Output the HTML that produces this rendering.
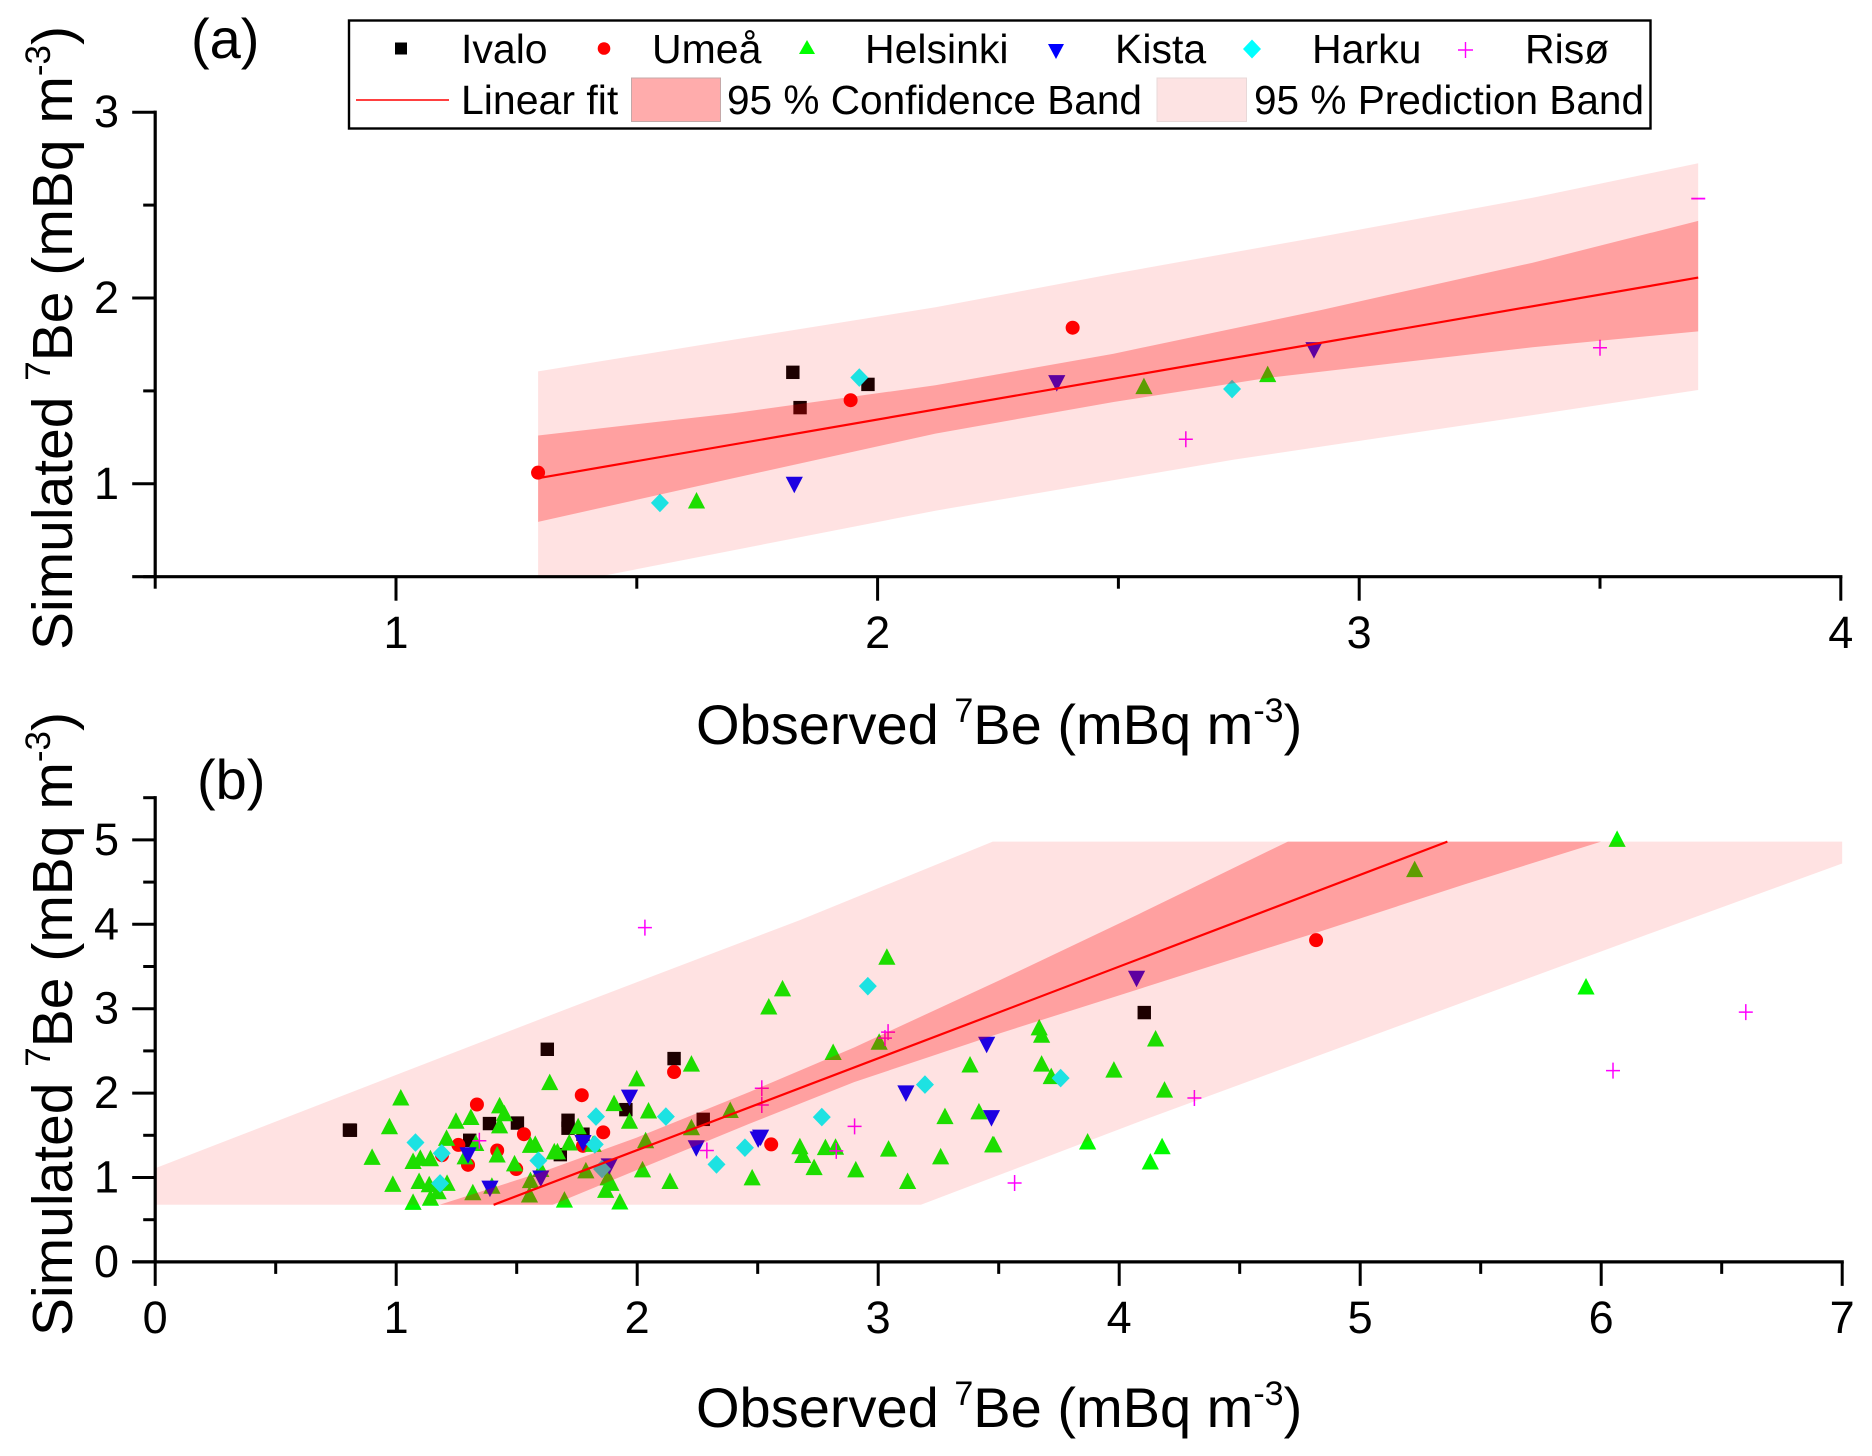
<!DOCTYPE html>
<html lang="en">
<head>
<meta charset="utf-8">
<title>Simulated vs observed 7Be</title>
<style>
html,body{margin:0;padding:0;background:#fff;}
svg{display:block;}
text{font-family:"Liberation Sans",sans-serif;fill:#000;}
.title{font-size:56px;}
.title-y{font-size:57px;}
.legend-text{font-size:41px;}
.panel{font-size:56px;}
.tick{font-size:45px;}
</style>
</head>
<body>
<svg id="chart" xmlns="http://www.w3.org/2000/svg" width="1872" height="1456" viewBox="0 0 1872 1456">
  <rect x="0" y="0" width="1872" height="1456" fill="#fff"/>
  <g id="plot-a"></g>
  <g id="plot-b"></g>

  <text class="panel" x="191" y="58">(a)</text>
  <text class="panel" x="197" y="799">(b)</text>

  <text class="title" x="696" y="744">Observed <tspan dy="-22" font-size="34">7</tspan><tspan dy="22">Be (mBq m</tspan><tspan dy="-22" font-size="34">-3</tspan><tspan dy="22">)</tspan></text>
  <text class="title" x="696" y="1427">Observed <tspan dy="-22" font-size="34">7</tspan><tspan dy="22">Be (mBq m</tspan><tspan dy="-22" font-size="34">-3</tspan><tspan dy="22">)</tspan></text>
  <text class="title-y" transform="translate(72 650) rotate(-90)">Simulated <tspan dy="-22" font-size="35">7</tspan><tspan dy="22">Be (mBq m</tspan><tspan dy="-22" font-size="35">-3</tspan><tspan dy="22">)</tspan></text>
  <text class="title-y" transform="translate(72 1336) rotate(-90)">Simulated <tspan dy="-22" font-size="35">7</tspan><tspan dy="22">Be (mBq m</tspan><tspan dy="-22" font-size="35">-3</tspan><tspan dy="22">)</tspan></text>

  <g>
    <rect x="349" y="20.5" width="1301.5" height="108" fill="#fff" stroke="#000" stroke-width="2.4"/>
    <rect x="395" y="42.5" width="12" height="12" fill="#000"/>
    <text class="legend-text" x="461" y="63">Ivalo</text>
    <circle cx="604" cy="48.5" r="6.3" fill="#f00"/>
    <text class="legend-text" x="652" y="63">Umeå</text>
    <polygon points="807,40 815,54 799,54" fill="#0f0"/>
    <text class="legend-text" x="865" y="63">Helsinki</text>
    <polygon points="1048,44 1064,44 1056,59" fill="#00f"/>
    <text class="legend-text" x="1115" y="63">Kista</text>
    <polygon points="1252,39.5 1261,49 1252,58.5 1243,49" fill="#0ff"/>
    <text class="legend-text" x="1312" y="63">Harku</text>
    <path d="M1458 50H1473M1465.5 42V58" stroke="#f0f" stroke-width="1.4" fill="none"/>
    <text class="legend-text" x="1525" y="63">Risø</text>
    <line x1="356" y1="100" x2="449" y2="100" stroke="#f00" stroke-width="1.6"/>
    <text class="legend-text" x="461" y="114">Linear fit</text>
    <rect x="631.5" y="78" width="89" height="43.5" fill="#ffacac" stroke="#c4a8a8" stroke-width="1"/>
    <text class="legend-text" x="727" y="114" textLength="415" lengthAdjust="spacingAndGlyphs">95 % Confidence Band</text>
    <rect x="1157" y="78" width="89.5" height="43.5" fill="#fde3e3" stroke="#e8d8d8" stroke-width="1"/>
    <text class="legend-text" x="1254" y="114" textLength="390" lengthAdjust="spacingAndGlyphs">95 % Prediction Band</text>
  </g>
</svg>
<script>
// ---- Panel (a) data: [observed, simulated] ----
const ivaloA = [[1.824,1.60],[1.839,1.41],[1.98,1.535]];
const umeaA = [[1.295,1.06],[1.944,1.45],[2.405,1.84]];
const helsinkiA = [[1.624,0.905],[2.553,1.52],[2.81,1.585]];
const kistaA = [[1.827,1.0],[2.372,1.547],[2.906,1.725]];
const harkuA = [[1.548,0.897],[1.962,1.572],[2.736,1.51]];
const risoA = [[2.64,1.24],[3.5,1.732]];
const risoDashA = [[3.704,2.535]];
const fitA = [[1.295,1.03],[3.704,2.11]];
const predUpperA = [[1.295,1.605],[1.7,1.775],[2.12,1.95],[2.49,2.13],[2.92,2.33],[3.36,2.54],[3.704,2.725]];
const predLowerA = [[3.704,1.505],[3.36,1.37],[2.74,1.13],[2.12,0.855],[1.42,0.5],[1.295,0.5]];
const confUpperA = [[1.295,1.26],[1.7,1.38],[2.12,1.53],[2.49,1.70],[2.92,1.935],[3.36,2.19],[3.704,2.415]];
const confLowerA = [[3.704,1.82],[3.36,1.735],[2.81,1.57],[2.49,1.44],[2.12,1.27],[1.7,1.03],[1.295,0.795]];
const xMajorTicksA = [1,2,3,4];
const xMinorTicksA = [0.5,1.5,2.5,3.5];
const yMajorTicksA = [1,2,3];
const yMinorTicksA = [0.5,1.5,2.5];
const xTickLabelsA = ["1","2","3","4"];
const yTickLabelsA = ["1","2","3"];

// ---- Panel (b) data: [observed, simulated] ----
const ivaloB = [[0.806,1.562],[0.81,1.56],[1.627,2.519],[2.153,2.409],[2.274,1.689],[1.953,1.804],[1.713,1.678],[1.713,1.584],[1.387,1.639],[1.503,1.645],[1.681,1.271],[1.775,1.513],[1.305,1.441],[4.104,2.954]];
const umeaB = [[1.335,1.865],[1.77,1.975],[2.153,2.25],[1.859,1.535],[1.53,1.513],[1.258,1.386],[1.419,1.32],[1.498,1.10],[1.298,1.15],[2.556,1.392],[1.19,1.265],[1.775,1.375],[4.817,3.812]];
const helsinkiB = [[1.019,1.936],[0.972,1.595],[0.90,1.232],[0.986,0.913],[1.07,0.699],[1.07,1.183],[1.10,1.221],[1.142,1.216],[1.095,0.946],[1.137,0.908],[1.211,0.924],[1.142,0.748],[1.174,0.825],[1.209,1.458],[1.248,1.661],[1.31,1.705],[1.33,1.397],[1.286,1.238],[1.318,0.814],[1.397,0.891],[1.429,1.843],[1.449,1.749],[1.429,1.606],[1.419,1.26],[1.491,1.155],[1.557,0.957],[1.553,0.787],[1.557,1.375],[1.577,1.386],[1.6,1.089],[1.637,2.118],[1.656,1.298],[1.669,1.298],[1.698,0.726],[1.718,1.403],[1.755,1.595],[1.787,1.073],[1.817,1.386],[1.904,1.87],[1.968,1.661],[1.998,2.162],[2.047,1.782],[2.022,1.084],[2.035,1.43],[2.136,0.946],[2.225,2.338],[2.225,1.584],[2.386,1.788],[1.879,0.99],[1.891,0.924],[1.869,0.842],[1.928,0.704],[2.477,0.99],[2.546,3.014],[2.603,3.229],[2.675,1.359],[2.687,1.254],[2.734,1.111],[2.781,1.348],[2.823,1.353],[2.813,2.475],[2.907,1.084],[3.004,2.596],[3.036,3.603],[3.043,1.331],[3.122,0.946],[3.259,1.238],[3.277,1.716],[3.381,2.327],[3.418,1.771],[3.475,1.381],[3.48,1.381],[3.668,2.767],[3.678,2.679],[3.678,2.338],[3.718,2.189],[3.869,1.414],[3.978,2.266],[4.129,1.177],[4.151,2.635],[4.178,1.359],[4.188,2.03],[5.226,4.642],[5.937,3.251],[6.066,5.0]];
const kistaB = [[1.968,1.958],[1.775,1.42],[1.298,1.276],[1.389,0.88],[1.6,1.0],[1.884,1.144],[2.245,1.359],[2.502,1.463],[2.512,1.485],[3.115,2.008],[3.45,2.585],[3.47,1.716],[4.072,3.366]];
const harkuB = [[1.08,1.414],[1.189,1.287],[1.182,0.93],[1.59,1.2],[1.829,1.722],[1.824,1.392],[2.119,1.722],[2.447,1.353],[2.329,1.155],[1.854,1.10],[2.766,1.716],[2.957,3.267],[3.194,2.101],[3.757,2.178]];
const risoB = [[2.032,3.96],[1.345,1.436],[2.289,1.32],[2.517,2.057],[2.517,1.859],[2.826,1.315],[2.902,1.606],[3.028,2.651],[3.041,2.723],[3.566,0.935],[4.312,1.942],[6.049,2.266],[6.6,2.959]];
const fitB = [[1.404,0.677],[5.362,4.98]];
const predBandB = [[0,1.11],[1.71,3.0],[2.675,4.05],[3.475,4.98],[7,4.98],[7,4.72],[6.24,3.93],[4.1,1.68],[3.177,0.677],[0,0.677]];
const confBandB = [[1.18,0.677],[1.6,1.06],[2.0,1.475],[2.468,2.017],[2.9,2.54],[3.506,3.34],[4.08,4.12],[4.7,4.98],[6.0,4.98],[5.43,4.47],[4.85,3.93],[3.506,2.71],[2.9,2.13],[2.468,1.64],[2.0,1.09],[1.65,0.677]];
const xMajorTicksB = [0,1,2,3,4,5,6,7];
const xMinorTicksB = [0.5,1.5,2.5,3.5,4.5,5.5,6.5];
const yMajorTicksB = [0,1,2,3,4,5];
const yMinorTicksB = [0.5,1.5,2.5,3.5,4.5,5.5];
const xTickLabelsB = ["0","1","2","3","4","5","6","7"];
const yTickLabelsB = ["0","1","2","3","4","5"];

const NS = 'http://www.w3.org/2000/svg';
const colors = {ivalo:'#000000',umea:'#ff0000',helsinki:'#00fa00',kista:'#0000ff',harku:'#00ffff',riso:'#ff00ff'};

// axis functions
function xA(v){return 155.2+(v-0.5)*481.6;}
function yA(v){return 483.8-(v-1)*185.8;}
function xB(v){return 155.2+v*241;}
function yB(v){return 1261.9-v*84.4;}

function make(tag,parent){
  const el=document.createElementNS(NS,tag);
  parent.appendChild(el);
  return el;
}
function ptsToString(pts,fx,fy){
  return pts.map(function(p){return fx(p[0]).toFixed(1)+','+fy(p[1]).toFixed(1);}).join(' ');
}
function drawMarker(parent,series,shape,px,py){
  let el;
  if(shape==='square'){
    el=make('rect',parent);
    el.setAttribute('x',px-6.7);el.setAttribute('y',py-6.7);
    el.setAttribute('width',13.4);el.setAttribute('height',13.4);
    el.setAttribute('fill',colors[series]);
  }else if(shape==='circle'){
    el=make('circle',parent);
    el.setAttribute('cx',px);el.setAttribute('cy',py);el.setAttribute('r',7);
    el.setAttribute('fill',colors[series]);
  }else if(shape==='up'){
    el=make('polygon',parent);
    el.setAttribute('points',px+','+(py-9.5)+' '+(px+8.6)+','+(py+7)+' '+(px-8.6)+','+(py+7));
    el.setAttribute('fill',colors[series]);
  }else if(shape==='down'){
    el=make('polygon',parent);
    el.setAttribute('points',(px-8.6)+','+(py-7)+' '+(px+8.6)+','+(py-7)+' '+px+','+(py+9.5));
    el.setAttribute('fill',colors[series]);
  }else if(shape==='diamond'){
    el=make('polygon',parent);
    el.setAttribute('points',px+','+(py-9.3)+' '+(px+9)+','+py+' '+px+','+(py+9.3)+' '+(px-9)+','+py);
    el.setAttribute('fill',colors[series]);
  }else if(shape==='plus'){
    el=make('path',parent);
    el.setAttribute('d','M'+(px-7)+' '+py+'H'+(px+7)+'M'+px+' '+(py-8)+'V'+(py+8));
    el.setAttribute('stroke',colors[series]);
    el.setAttribute('stroke-width',1.5);
    el.setAttribute('fill','none');
  }else{
    el=make('path',parent);
    el.setAttribute('d','M'+(px-7)+' '+py+'H'+(px+7));
    el.setAttribute('stroke',colors[series]);
    el.setAttribute('stroke-width',1.8);
    el.setAttribute('fill','none');
  }
  
  
}
function drawSeries(parent,points,series,shape,fx,fy){
  points.forEach(function(p){drawMarker(parent,series,shape,fx(p[0]),fy(p[1]));});
}
function drawBand(parent,points,fill,opacity,name,fx,fy){
  const el=make('polygon',parent);
  el.setAttribute('points',ptsToString(points,fx,fy));
  el.setAttribute('fill',fill);
  el.setAttribute('fill-opacity',opacity);
  
  
}
function drawFit(parent,points,fx,fy){
  const el=make('polyline',parent);
  el.setAttribute('points',ptsToString(points,fx,fy));
  el.setAttribute('fill','none');
  el.setAttribute('stroke','#ff0000');
  el.setAttribute('stroke-width',2.2);
  
  
}
function drawAxes(parent,cfg){
  const fx=cfg.fx, fy=cfg.fy;
  const axisY=fy(cfg.yMin), axisX=fx(cfg.xMin);
  const xAxis=make('line',parent);
  xAxis.setAttribute('x1',axisX-23);xAxis.setAttribute('x2',fx(cfg.xMax)+1.6);
  xAxis.setAttribute('y1',axisY);xAxis.setAttribute('y2',axisY);
  xAxis.setAttribute('stroke','#000');xAxis.setAttribute('stroke-width',3.2);
  
  
  const yAxis=make('line',parent);
  yAxis.setAttribute('x1',axisX);yAxis.setAttribute('x2',axisX);
  yAxis.setAttribute('y1',axisY);yAxis.setAttribute('y2',fy(cfg.yMax)-1.6);
  yAxis.setAttribute('stroke','#000');yAxis.setAttribute('stroke-width',3.2);
  
  
  function tick(x1,y1,x2,y2,name){
    const t=make('line',parent);
    t.setAttribute('x1',x1);t.setAttribute('y1',y1);t.setAttribute('x2',x2);t.setAttribute('y2',y2);
    t.setAttribute('stroke','#000');t.setAttribute('stroke-width',3);
    
    
  }
  cfg.xMajor.forEach(function(v,i){
    tick(fx(v),axisY,fx(v),axisY+24,'x-major-tick');
    const lb=make('text',parent);
    lb.setAttribute('class','tick');
    lb.setAttribute('x',fx(v));lb.setAttribute('y',cfg.xLabelY);
    lb.setAttribute('text-anchor','middle');
    lb.textContent=cfg.xLabels[i];
    
    
  });
  cfg.xMinor.forEach(function(v){tick(fx(v),axisY,fx(v),axisY+12,'x-minor-tick');});
  cfg.yMajor.forEach(function(v,i){
    tick(axisX,fy(v),axisX-23,fy(v),'y-major-tick');
    const lb=make('text',parent);
    lb.setAttribute('class','tick');
    lb.setAttribute('x',119);lb.setAttribute('y',fy(v)+15);
    lb.setAttribute('text-anchor','end');
    lb.textContent=cfg.yLabels[i];
    
    
  });
  cfg.yMinor.forEach(function(v){tick(axisX,fy(v),axisX-12,fy(v),'y-minor-tick');});
}

const PRED_ALPHA=0.115, CONF_ALPHA=0.29;

// Panel (a)
const gA=document.getElementById('plot-a');
drawSeries(gA,ivaloA,'ivalo','square',xA,yA);
drawSeries(gA,umeaA,'umea','circle',xA,yA);
drawSeries(gA,helsinkiA,'helsinki','up',xA,yA);
drawSeries(gA,kistaA,'kista','down',xA,yA);
drawSeries(gA,harkuA,'harku','diamond',xA,yA);
drawSeries(gA,risoA,'riso','plus',xA,yA);
drawSeries(gA,risoDashA,'riso','dash',xA,yA);
drawBand(gA,predUpperA.concat(predLowerA),'#ff0000',PRED_ALPHA,'prediction-band',xA,yA);
drawBand(gA,confUpperA.concat(confLowerA),'#ff0000',CONF_ALPHA,'confidence-band',xA,yA);
drawFit(gA,fitA,xA,yA);
drawAxes(gA,{fx:xA,fy:yA,xMin:0.5,xMax:4,yMin:0.5,yMax:3,xMajor:xMajorTicksA,xMinor:xMinorTicksA,yMajor:yMajorTicksA,yMinor:yMinorTicksA,xLabels:xTickLabelsA,yLabels:yTickLabelsA,xLabelY:648});

// Panel (b)
const gB=document.getElementById('plot-b');
drawSeries(gB,ivaloB,'ivalo','square',xB,yB);
drawSeries(gB,umeaB,'umea','circle',xB,yB);
drawSeries(gB,helsinkiB,'helsinki','up',xB,yB);
drawSeries(gB,kistaB,'kista','down',xB,yB);
drawSeries(gB,harkuB,'harku','diamond',xB,yB);
drawSeries(gB,risoB,'riso','plus',xB,yB);
drawBand(gB,predBandB,'#ff0000',PRED_ALPHA,'prediction-band',xB,yB);
drawBand(gB,confBandB,'#ff0000',CONF_ALPHA,'confidence-band',xB,yB);
drawFit(gB,fitB,xB,yB);
drawAxes(gB,{fx:xB,fy:yB,xMin:0,xMax:7,yMin:0,yMax:5.5,xMajor:xMajorTicksB,xMinor:xMinorTicksB,yMajor:yMajorTicksB,yMinor:yMinorTicksB,xLabels:xTickLabelsB,yLabels:yTickLabelsB,xLabelY:1333});
</script>
</body>
</html>
